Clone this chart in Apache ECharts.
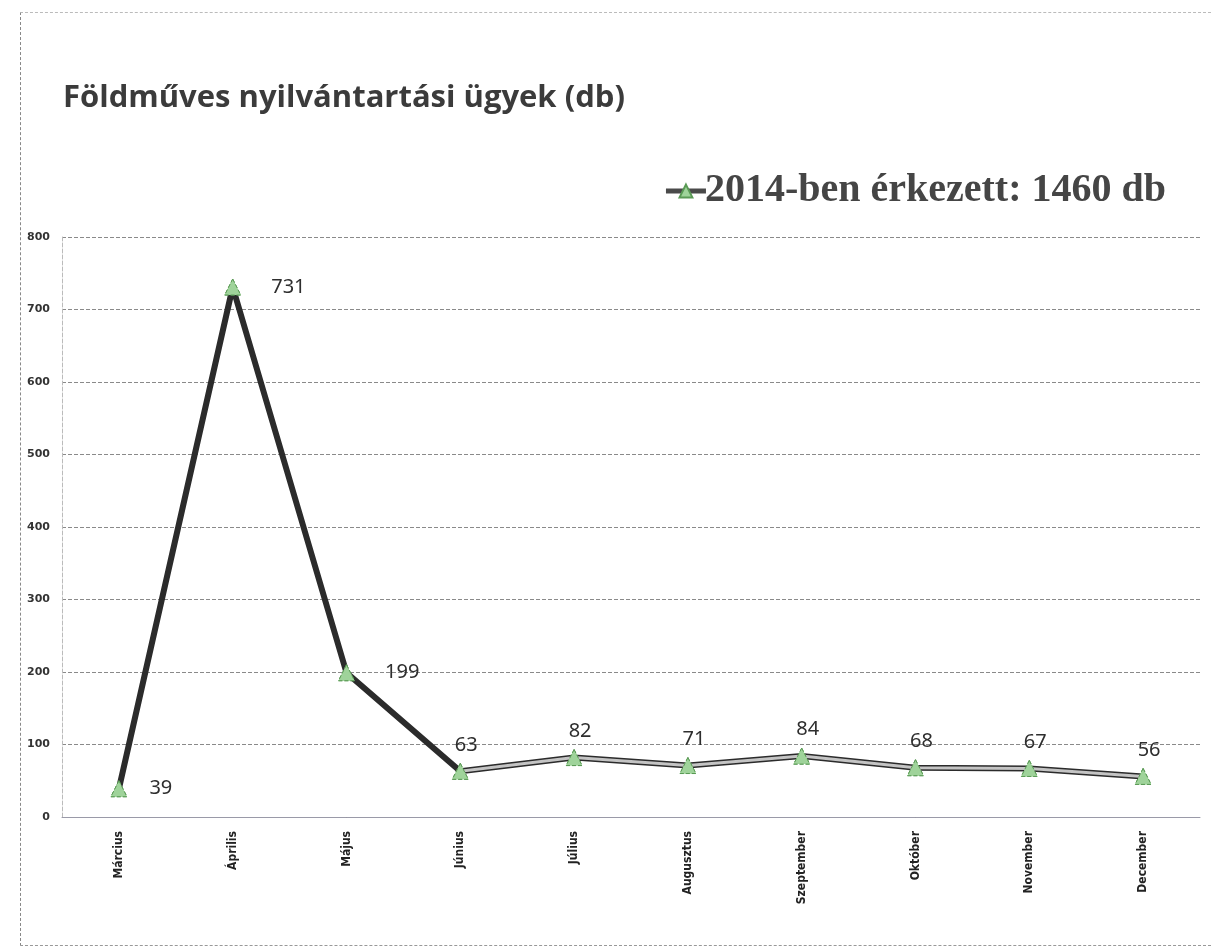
<!DOCTYPE html>
<html>
<head>
<meta charset="utf-8">
<script src="https://cdn.jsdelivr.net/npm/echarts@6/dist/echarts.min.js"></script>
<style>
  html, body { margin: 0; padding: 0; background: #fff; }
  #frame { position: absolute; left: 20px; top: 12px; width: 1190px; height: 932px; border-left: 1px dashed #888; border-top: 1px dashed #bbb; border-bottom: 1px dashed #999; }
  #chart { width: 1211px; height: 951px; position: absolute; left: 0; top: 0; }
</style>
</head>
<body>
<div id="frame"></div>
<div id="chart"></div>
<script>
const months = ['Március', 'Április', 'Május', 'Június', 'Július', 'Augusztus', 'Szeptember', 'Október', 'November', 'December']
const received = [39, 731, 199, 63, 82, 71, 84, 68, 67, 56]
const seriesName = '2014-ben érkezett: 1460 db'
const yTicks = { min: 0, max: 800, interval: 100 }

// second half of the line is drawn as a grey band with a dark outline
const tailFrom = 3
const tail = received.map((v, i) => (i >= tailFrom ? v : '-'))

const markStyle = { color: '#9fd39a', borderColor: '#5a9a55', borderWidth: 1, borderType: 'dashed' }

const chart = echarts.init(document.getElementById('chart'))

chart.setOption({
  title: {
    text: 'Földműves nyilvántartási ügyek (db)',
    left: 58,
    top: 78,
    textStyle: {
      fontFamily: 'Open Sans',
      fontWeight: 'bold',
      fontSize: 31,
      color: '#3b3b3b'
    }
  },
  legend: {
    data: [seriesName],
    right: 40,
    top: 166,
    itemWidth: 40,
    itemHeight: 16,
    itemGap: 0,
    lineStyle: { width: 5, color: '#4a4a4a' },
    textStyle: {
      fontFamily: 'Liberation Serif',
      fontWeight: 'bold',
      fontSize: 40,
      color: '#454545',
      padding: [0, 0, 0, -6]
    }
  },
  grid: {
    left: 62,
    right: 11,
    top: 237,
    bottom: 134
  },
  xAxis: {
    type: 'category',
    data: months,
    boundaryGap: true,
    axisLine: { lineStyle: { color: '#9a9aa8', width: 1 } },
    axisTick: { show: false },
    axisLabel: {
      rotate: 90,
      margin: 14,
      fontFamily: 'DejaVu Sans Condensed',
      fontWeight: 'bold',
      fontSize: 12,
      color: '#222'
    }
  },
  yAxis: {
    type: 'value',
    min: yTicks.min,
    max: yTicks.max,
    interval: yTicks.interval,
    axisLine: { show: true, lineStyle: { color: '#bbb', type: 'dashed' } },
    axisTick: { show: false },
    axisLabel: {
      margin: 12,
      fontFamily: 'DejaVu Sans',
      fontWeight: 'bold',
      fontSize: 11,
      color: '#333'
    },
    splitLine: { lineStyle: { color: '#8a8a8a', type: 'dashed', width: 1 } }
  },
  series: [
    {
      name: seriesName,
      type: 'line',
      symbol: 'triangle',
      symbolSize: 16,
      z: 2,
      lineStyle: { color: '#2b2b2b', width: 6 },
      itemStyle: markStyle,
      label: {
        show: true,
        fontFamily: 'Noto Sans',
        fontSize: 20,
        color: '#2e2e2e'
      },
      data: received.map((v, i) => (i < tailFrom
        ? { value: v, label: { position: 'right', distance: i === 0 ? 22 : 30 } }
        : { value: v, label: { position: 'top', distance: 8, offset: [6, 0] } }))
    },
    {
      name: 'tail',
      type: 'line',
      data: tail,
      symbol: 'none',
      z: 3,
      silent: true,
      lineStyle: { color: '#c4c4c4', width: 3 }
    },
    {
      name: 'marks',
      type: 'line',
      data: received,
      symbol: 'triangle',
      symbolSize: 16,
      z: 4,
      silent: true,
      lineStyle: { width: 0 },
      itemStyle: markStyle
    }
  ]
})
</script>
</body>
</html>
